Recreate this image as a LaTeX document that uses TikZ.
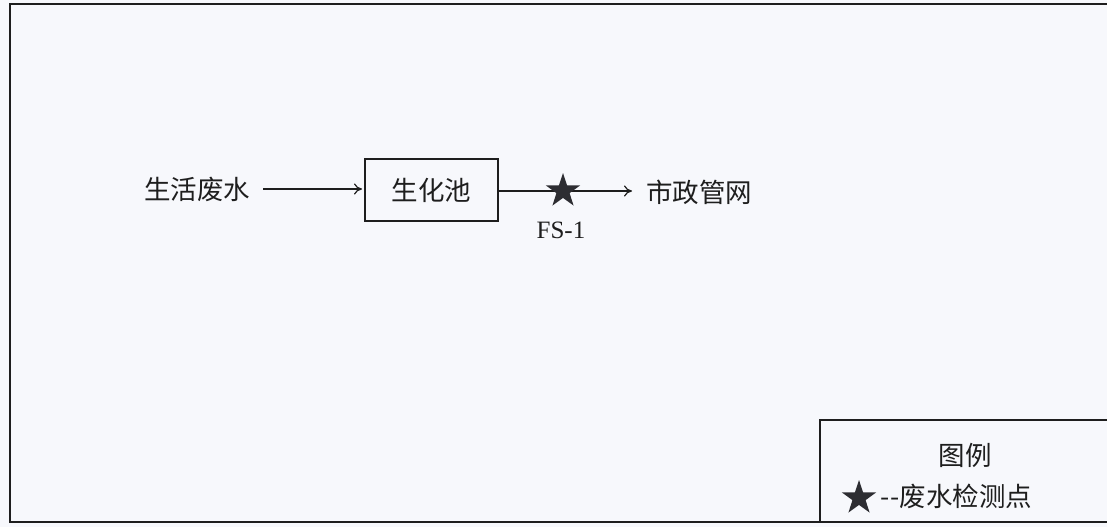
\documentclass[tikz,border=0pt]{standalone}
\usepackage{fontspec}
\usetikzlibrary{arrows.meta,shapes.geometric}
\newfontfamily\cjk{Noto Sans CJK SC}
\newfontfamily\tnr{Liberation Serif}
\definecolor{paper}{RGB}{247,248,252}
\definecolor{ink}{RGB}{30,30,30}
\definecolor{starc}{RGB}{45,45,50}
\tikzset{
  lbl/.style={inner sep=0pt, font=\cjk\fontsize{26.5}{30}\selectfont, text=ink},
  procbox/.style={draw=ink, line width=1.3pt, minimum width=133pt, minimum height=62pt, inner sep=0pt, font=\cjk\fontsize{26.5}{30}\selectfont, text=ink},
  flow/.style={draw=ink, line width=1.2pt, -{To[length=8pt,width=11pt]}},
  mstar/.style={star, star points=5, star point ratio=2.6, minimum size=36pt, inner sep=0pt, fill=starc, draw=none},
  frame/.style={draw=ink, line width=1.5pt}
}
\begin{document}
\begin{tikzpicture}[x=1pt,y=-1pt]
\fill[paper] (0,0) rectangle (1107,527);
\useasboundingbox (0,0) rectangle (1107,527);
% outer frame (right edge runs off the page)
\draw[frame] (1120,4) -- (10,4) -- (10,522) -- (1120,522);
% legend box
\draw[frame] (1120,420) -- (820,420) -- (820,522);
% flow
\node[lbl, anchor=west] (src) at (144,189) {生活废水};
\node[procbox] (pool) at (431.5,190) {生化池};
\node[lbl, anchor=west] (dst) at (646,192) {市政管网};
\coordinate (a1) at (263,189);
\coordinate (a2) at (362,189);
\draw[flow] (a1) -- (a2);
\coordinate (b1) at (499,191);
\coordinate (b2) at (632,191);
\draw[flow] (b1) -- (b2);
\node[mstar] (fs) at (563,191) {};
\node[inner sep=0pt, font=\tnr\fontsize{25}{28}\selectfont, text=ink] (fsl) at (561,230) {FS-1};
% legend
\node[lbl] (lgt) at (965,455) {图例};
\node[mstar] (lgs) at (859,498) {};
\node[lbl, anchor=west] (lgx) at (880,496) {-\kern1pt-废水检测点};
\end{tikzpicture}
\end{document}
